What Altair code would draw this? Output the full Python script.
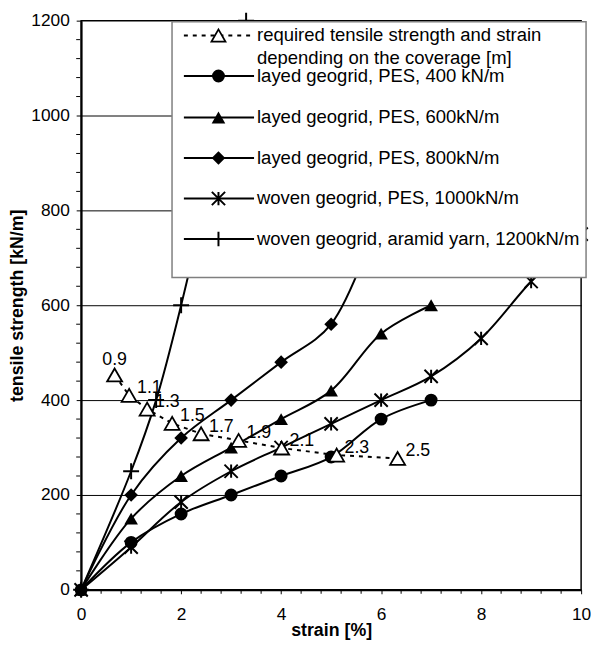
import altair as alt
import pandas as pd

# ---------------- data ----------------
strain_400 = [0, 1, 2, 3, 4, 5, 6, 7]
tens_400 = [0, 100, 160, 200, 240, 280, 360, 400]

strain_600 = [0, 1, 2, 3, 4, 5, 6, 7]
tens_600 = [0, 150, 240, 300, 360, 420, 540, 600]

strain_800 = [0, 1, 2, 3, 4, 5, 6]
tens_800 = [0, 200, 320, 400, 480, 560, 800]

strain_1000 = [0, 1, 2, 3, 4, 5, 6, 7, 8, 9, 10]
tens_1000 = [0, 90, 185, 250, 300, 350, 400, 450, 530, 650, 750]

strain_1200 = [0, 1, 1.5, 2, 3.3]
tens_1200 = [0, 250, 400, 600, 1200]

req_strain = [0.67, 0.96, 1.32, 1.82, 2.40, 3.15, 4.01, 5.11, 6.33]
req_tens = [453, 410, 381, 351, 329, 315, 299, 284, 277]
req_cover = ["0.9", "1.1", "1.3", "1.5", "1.7", "1.9", "2.1", "2.3", "2.5"]

legend_text = [
    ["required tensile strength and strain", "depending on the coverage [m]"],
    ["layed geogrid, PES, 400 kN/m"],
    ["layed geogrid, PES, 600kN/m"],
    ["layed geogrid, PES, 800kN/m"],
    ["woven geogrid, PES, 1000kN/m"],
    ["woven geogrid, aramid yarn, 1200kN/m"],
]

x_major = [0, 2, 4, 6, 8, 10]
y_major = [0, 200, 400, 600, 800, 1000, 1200]
x_minor = [round(i * 0.4, 1) for i in range(26) if i % 5 != 0]
y_minor = [i * 40 for i in range(31) if i % 5 != 0]

# ---------------- styles ----------------
FONT = "Liberation Sans"
STAR = "M-1,-1L1,1M-1,1L1,-1M0,-1L0,1"
PLUS = "M-1,0L1,0M0,-1L0,1"

series = [
    (strain_400, tens_400, dict(shape="circle", filled=True, size=170)),
    (strain_600, tens_600, dict(shape="triangle-up", filled=True, size=190)),
    (strain_800, tens_800, dict(shape="diamond", filled=True, size=190)),
    (strain_1000, tens_1000, dict(shape=STAR, filled=False, size=180, strokeWidth=2)),
    (strain_1200, tens_1200, dict(shape=PLUS, filled=False, size=260, strokeWidth=2)),
]

xscale = alt.Scale(domain=[0, 10], nice=False, zero=False)
yscale = alt.Scale(domain=[0, 1200], nice=False)

x_axis = alt.Axis(
    values=x_major, format="d",
    grid=False, tickSize=4, labelPadding=12, title="strain [%]", titlePadding=-1,
    labelFontSize=17.5, titleFontSize=18, titleFontWeight="bold", domainWidth=2,
    labelAngle=0, labelFlush=False, labelOverlap=False,
)
y_axis = alt.Axis(
    values=y_major, format="d",
    grid=True,
    gridOpacity={"condition": {"test": "datum.value > 0 && datum.value < 1200", "value": 1}, "value": 0},
    gridColor="black", gridWidth=1,
    tickSize=5, labelPadding=7, title="tensile strength [kN/m]", titlePadding=4,
    labelFontSize=17.5, titleFontSize=18, titleFontWeight="bold", domainWidth=2,
    labelFlush=False, labelOverlap=False,
)

layers = []

# minor ticks
xm = alt.Chart(pd.DataFrame({"v": x_minor}))
layers.append(xm.mark_rule(color="black", strokeWidth=1).encode(
    x=alt.X("v:Q", scale=xscale, axis=x_axis), y=alt.value(577), y2=alt.value(580)))
ym = alt.Chart(pd.DataFrame({"v": y_minor}))
layers.append(ym.mark_rule(color="black", strokeWidth=1).encode(
    y=alt.Y("v:Q", scale=yscale, axis=y_axis), x=alt.value(-5), x2=alt.value(-1)))

for xs, ys, st in series:
    df = pd.DataFrame({"strain": xs, "tension": ys})
    base = alt.Chart(df)
    enc_x = alt.X("strain:Q", scale=xscale)
    enc_y = alt.Y("tension:Q", scale=yscale)
    line = base.mark_line(color="black", strokeWidth=2, interpolate="catmull-rom").encode(x=enc_x, y=enc_y)
    pkw = dict(shape=st["shape"], size=st["size"], opacity=1, color="black")
    if st["filled"]:
        pkw["filled"] = True
    else:
        pkw["filled"] = False
        pkw["strokeWidth"] = st.get("strokeWidth", 2)
    pts = base.mark_point(**pkw).encode(x=enc_x, y=enc_y)
    layers += [line, pts]

req_df = pd.DataFrame({"strain": req_strain, "tension": req_tens, "cover": req_cover,
                       "idx": list(range(len(req_strain)))})
rb = alt.Chart(req_df)
rx = alt.X("strain:Q", scale=xscale)
ry = alt.Y("tension:Q", scale=yscale)
req_line = rb.mark_line(color="black", strokeWidth=2, strokeDash=[4, 5]).encode(x=rx, y=ry)
req_pts = rb.mark_point(shape="triangle-up", size=230, fill="white", stroke="black",
                        strokeWidth=1.8, opacity=1, fillOpacity=1).encode(x=rx, y=ry)
req_lab_first = rb.transform_filter("datum.idx == 0").mark_text(
    align="center", baseline="middle", dy=-15, fontSize=18, font=FONT, color="black"
).encode(x=rx, y=ry, text="cover:N")
req_lab = rb.transform_filter("datum.idx > 0").mark_text(
    align="left", baseline="middle", dx=8, dy=-7, fontSize=18, font=FONT, color="black"
).encode(x=rx, y=ry, text="cover:N")
layers += [req_line, req_pts, req_lab_first, req_lab]

# ---------------- legend (drawn box) ----------------
one = pd.DataFrame({"k": [0]})
lg = alt.Chart(one)
layers.append(lg.mark_rect(fill="white", stroke="#7f7f7f", strokeWidth=1.5).encode(
    x=alt.value(92), x2=alt.value(511), y=alt.value(1), y2=alt.value(260)))

row_y = [15, 56, 98, 139, 180, 221]
sym_x0, sym_x1, sym_xm, txt_x = 104, 175, 139, 178
leg_styles = [
    dict(shape="triangle-up", size=200, fill="white", stroke="black", strokeWidth=1.8, opacity=1, fillOpacity=1),
    dict(shape="circle", size=170, filled=True, color="black", opacity=1),
    dict(shape="triangle-up", size=190, filled=True, color="black", opacity=1),
    dict(shape="diamond", size=190, filled=True, color="black", opacity=1),
    dict(shape=STAR, size=180, filled=False, color="black", strokeWidth=2, opacity=1),
    dict(shape=PLUS, size=220, filled=False, color="black", strokeWidth=2, opacity=1),
]
for i, (yy, texts, stl) in enumerate(zip(row_y, legend_text, leg_styles)):
    rule_kw = dict(color="black", strokeWidth=2)
    if i == 0:
        rule_kw["strokeDash"] = [4, 5]
    layers.append(lg.mark_rule(**rule_kw).encode(
        x=alt.value(sym_x0), x2=alt.value(sym_x1), y=alt.value(yy)))
    layers.append(lg.mark_point(**stl).encode(x=alt.value(sym_xm), y=alt.value(yy)))
    for j, t in enumerate(texts):
        layers.append(lg.mark_text(align="left", baseline="middle", fontSize=18.7, font=FONT,
                                   color="black").encode(
            x=alt.value(txt_x), y=alt.value(yy + 23 * j), text=alt.value(t)))

chart = alt.layer(*layers).properties(
    width=506, height=576,
    autosize=alt.AutoSizeParams(type="none"),
    padding={"left": 74, "top": 9, "right": 10, "bottom": 49},
).configure_view(stroke="black", strokeWidth=1.5).configure_axis(
    domainColor="black", tickColor="black", labelColor="black", titleColor="black",
    labelFont=FONT, titleFont=FONT, tickWidth=1,
)

chart.save("out.html", embed_options={"renderer": "svg", "actions": False})
